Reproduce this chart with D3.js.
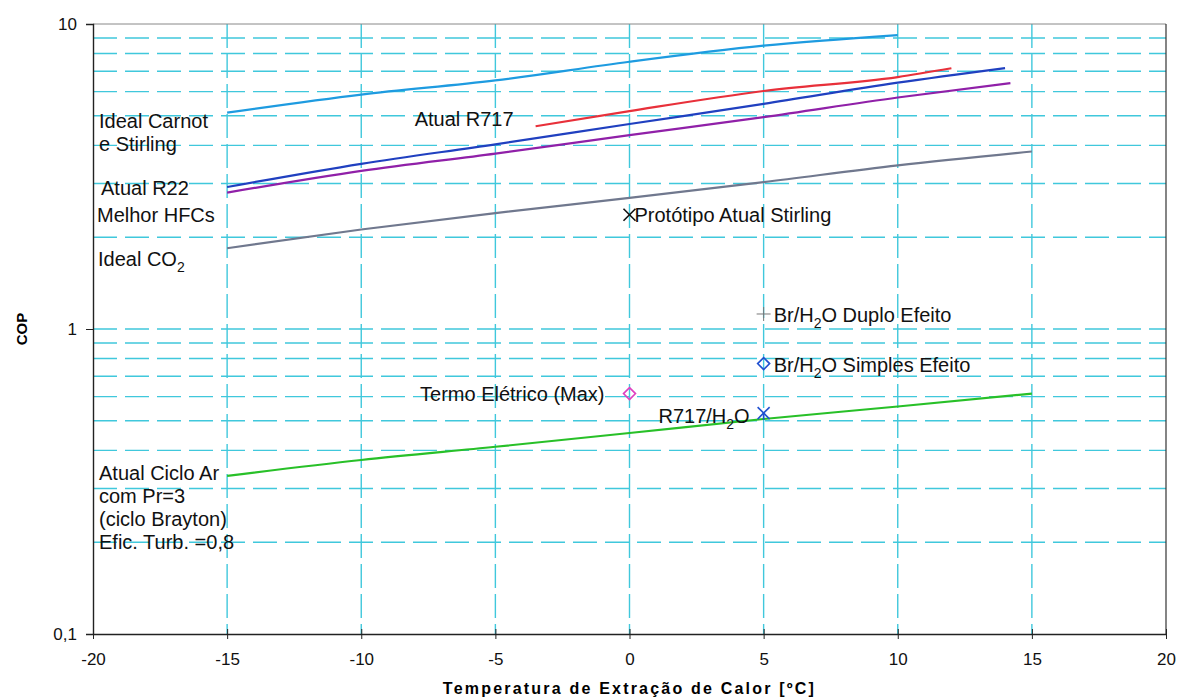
<!DOCTYPE html>
<html lang="pt">
<head>
  <meta charset="UTF-8">
  <title>COP x Temperatura de Extração de Calor</title>
  <script src="https://d3js.org/d3.v7.min.js"></script>
  <style>
    body { margin: 0; background: #fff; font-family: Arial, "Liberation Sans", sans-serif; }
    .lbl { font-size: 20px; fill: #111; }
  </style>
</head>
<body>
  <div id="chart"></div>
  <script>
    // dados
    const tCarnot = [-15, -10, -5, 0, 5, 10];
    const copCarnot = [5.12, 5.87, 6.53, 7.52, 8.49, 9.2];
    const tR717 = [-3.5, 0, 5, 10, 12];
    const copR717 = [4.62, 5.18, 6.03, 6.70, 7.16];
    const tR22 = [-15, -10, -5, 0, 5, 10, 14];
    const copR22 = [2.92, 3.48, 4.03, 4.70, 5.47, 6.42, 7.17];
    const tHFC = [-15, -10, -5, 0, 5, 10, 14.2];
    const copHFC = [2.80, 3.30, 3.76, 4.32, 4.95, 5.74, 6.40];
    const tCO2 = [-15, -10, -5, 0, 5, 10, 15];
    const copCO2 = [1.84, 2.12, 2.40, 2.69, 3.03, 3.44, 3.82];
    const tAr = [-15, -10, -5, 0, 5, 10, 15];
    const copAr = [0.330, 0.372, 0.411, 0.456, 0.507, 0.557, 0.614];

    const pontos = [
      {nome: "Protótipo Atual Stirling", t: 0, cop: 2.37, sym: "x", cor: "#111"},
      {nome: "Br/H2O Duplo Efeito", t: 5, cop: 1.12, sym: "+", cor: "#777"},
      {nome: "Br/H2O Simples Efeito", t: 5, cop: 0.77, sym: "d", cor: "#2050d0"},
      {nome: "Termo Elétrico (Max)", t: 0, cop: 0.614, sym: "d", cor: "#e040c0"},
      {nome: "R717/H2O", t: 5, cop: 0.53, sym: "*", cor: "#2050d0"}
    ];

    const xTicks = [-20, -15, -10, -5, 0, 5, 10, 15, 20];
    const yTicks = [0.1, 1, 10];

    const W = 1181, H = 699;
    const margin = {top: 24, right: 15, bottom: 65, left: 93};
    const width = W - margin.left - margin.right,
          height = H - margin.top - margin.bottom;

    const svg = d3.select("#chart").append("svg")
      .attr("width", W).attr("height", H);
    const g = svg.append("g").attr("transform", `translate(${margin.left},${margin.top})`);

    const x = d3.scaleLinear().domain([-20, 20]).range([0, width]);
    const y = d3.scaleLog().domain([0.1, 10]).range([height, 0]);

    const gridColor = "#40c8dc";

    // grade horizontal (log menor)
    const minor = [];
    [0.1, 1].forEach(dec => { for (let k = 1; k <= 9; k++) minor.push(dec * k); });
    g.append("g").selectAll("line").data(minor.filter(v => v > 0.1)).enter().append("line")
      .attr("x1", 0).attr("x2", width)
      .attr("y1", d => y(d)).attr("y2", d => y(d))
      .attr("stroke", gridColor).attr("stroke-width", 1.4)
      .attr("stroke-dasharray", "24,8");

    // grade vertical
    g.append("g").selectAll("line").data(xTicks.slice(1, -1)).enter().append("line")
      .attr("x1", d => x(d)).attr("x2", d => x(d))
      .attr("y1", 0).attr("y2", height)
      .attr("stroke", gridColor).attr("stroke-width", 1.4)
      .attr("stroke-dasharray", "24,6");

    // borda
    g.append("line").attr("x1", 0).attr("x2", width).attr("y1", 0).attr("y2", 0)
      .attr("stroke", "#888").attr("stroke-width", 1);
    g.append("line").attr("x1", width).attr("x2", width).attr("y1", 0).attr("y2", height)
      .attr("stroke", "#333").attr("stroke-width", 1.2);

    // eixos
    const xAxis = d3.axisBottom(x).tickValues(xTicks).tickSize(0).tickPadding(19)
      .tickFormat(d => d);
    const gx = g.append("g").attr("transform", `translate(0,${height})`).call(xAxis)
      .attr("font-size", 17).attr("font-family", "Arial, 'Liberation Sans', sans-serif");
    gx.select(".domain").attr("stroke", "#222").attr("stroke-width", 1.4);
    gx.selectAll(".tick text").attr("fill", "#111");
    gx.selectAll(".tick").append("line").attr("y1", -5).attr("y2", 5).attr("stroke", "#222");

    const yAxis = d3.axisLeft(y).tickValues(yTicks).tickSize(7).tickPadding(9)
      .tickFormat(d => d === 0.1 ? "0,1" : d);
    const gy = g.append("g").call(yAxis)
      .attr("font-size", 17).attr("font-family", "Arial, 'Liberation Sans', sans-serif");
    gy.select(".domain").attr("stroke", "#222").attr("stroke-width", 1.4);
    gy.selectAll(".tick text").attr("fill", "#111");
    gy.selectAll(".tick line").attr("stroke", "#222");

    // linhas
    const line = d3.line().x(d => x(d[0])).y(d => y(d[1])).curve(d3.curveMonotoneX);
    const series = [
      [tCarnot, copCarnot, "#1e9be0"],
      [tR717, copR717, "#e8303a"],
      [tR22, copR22, "#2040c0"],
      [tHFC, copHFC, "#9020a8"],
      [tCO2, copCO2, "#70788e"],
      [tAr, copAr, "#28c028"]
    ];
    series.forEach(([ts, vs, c]) => {
      g.append("path").datum(d3.zip(ts, vs)).attr("d", line)
        .attr("fill", "none").attr("stroke", c).attr("stroke-width", 2.2);
    });

    // marcadores
    pontos.forEach(p => {
      const px = x(p.t), py = y(p.cop);
      const m = g.append("g").attr("transform", `translate(${px},${py})`)
        .attr("stroke", p.cor).attr("fill", "none").attr("stroke-width", 1.6);
      if (p.sym === "x" || p.sym === "*") {
        m.append("line").attr("x1", -6).attr("y1", -6).attr("x2", 6).attr("y2", 6);
        m.append("line").attr("x1", -6).attr("y1", 6).attr("x2", 6).attr("y2", -6);
        if (p.sym === "*") m.append("line").attr("x1", 0).attr("y1", 0).attr("x2", 0).attr("y2", 7);
      } else if (p.sym === "+") {
        m.attr("stroke-width", 1);
        m.append("line").attr("x1", -7).attr("x2", 7);
        m.append("line").attr("y1", -7).attr("y2", 7);
      } else {
        m.append("path").attr("d", "M0,-6L6,0L0,6L-6,0Z");
      }
    });

    // rótulos
    function label(tx, ty, text, anchor) {
      return g.append("text").attr("class", "lbl").attr("x", tx).attr("y", ty)
        .attr("text-anchor", anchor || "start").text(text);
    }
    function labelSub(tx, ty, pre, sub, post, anchor) {
      const t = g.append("text").attr("class", "lbl").attr("x", tx).attr("y", ty)
        .attr("text-anchor", anchor || "start");
      t.append("tspan").text(pre);
      t.append("tspan").attr("dy", 6).attr("font-size", 14).text(sub);
      t.append("tspan").attr("dy", -6).text(post);
      return t;
    }
    label(6, 104, "Ideal Carnot");
    label(6, 127, "e Stirling");
    label(8, 171, "Atual R22");
    label(4, 198, "Melhor HFCs");
    labelSub(5, 242, "Ideal CO", "2", "");
    label(x(-3.5) - 22, 102, "Atual R717", "end").attr("font-size", 18);
    label(6, 456, "Atual Ciclo Ar");
    label(6, 479, "com Pr=3");
    label(6, 502, "(ciclo Brayton)");
    label(6, 525, "Efic. Turb. =0,8");

    label(x(0) + 5, y(2.37) + 7, "Protótipo Atual Stirling");
    labelSub(x(5) + 10, y(1.12) + 8, "Br/H", "2", "O Duplo Efeito");
    labelSub(x(5) + 10, y(0.77) + 8, "Br/H", "2", "O Simples Efeito");
    label(x(0) - 25, y(0.614) + 7, "Termo Elétrico (Max)", "end");
    labelSub(x(5) - 14, y(0.53) + 10, "R717/H", "2", "O", "end");

    // títulos dos eixos
    svg.append("text")
      .attr("transform", `translate(27,${margin.top + y(1)}) rotate(-90)`)
      .attr("text-anchor", "middle").attr("font-size", 15).attr("font-weight", "bold")
      .text("COP");
    svg.append("text")
      .attr("x", margin.left + x(0)).attr("y", 694)
      .attr("text-anchor", "middle").attr("font-size", 16).attr("font-weight", "bold")
      .attr("letter-spacing", 2.2)
      .text("Temperatura de Extração de Calor [ºC]");
  </script>
</body>
</html>
